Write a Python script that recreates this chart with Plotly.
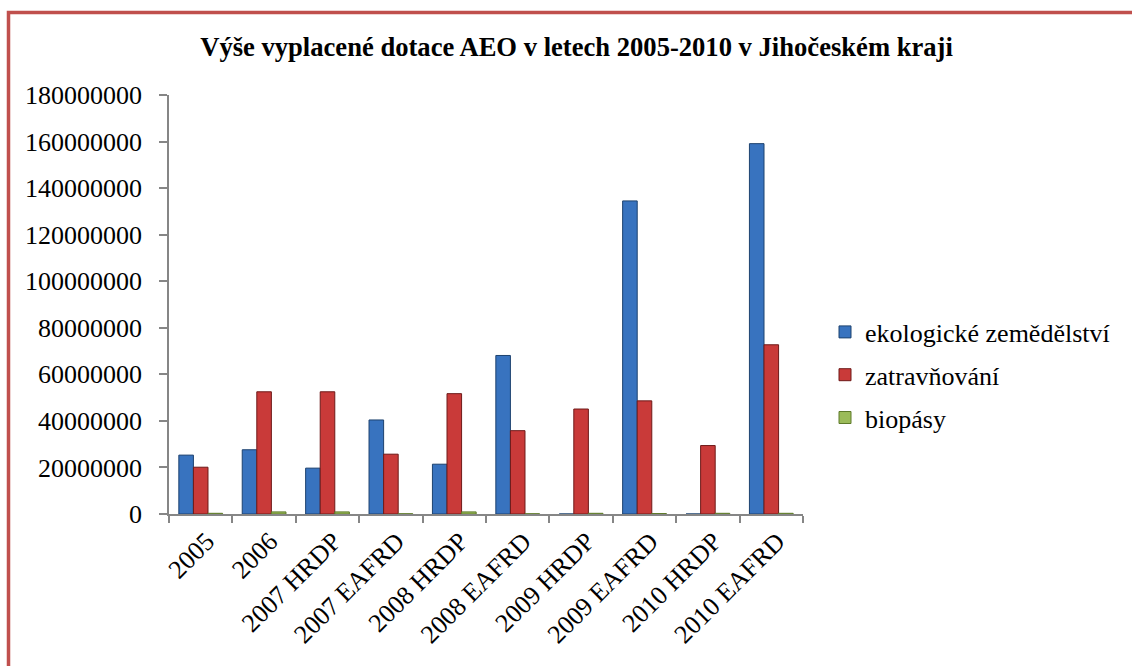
import plotly.graph_objects as go

categories = ["2005", "2006", "2007 HRDP", "2007 EAFRD", "2008 HRDP",
              "2008 EAFRD", "2009 HRDP", "2009 EAFRD", "2010 HRDP", "2010 EAFRD"]
ekologicke = [25300000, 27600000, 19700000, 40400000, 21400000,
              68100000, 0, 134500000, 0, 159100000]
zatravnovani = [20100000, 52500000, 52500000, 25700000, 51700000,
                35800000, 45100000, 48600000, 29400000, 72700000]
biopasy = [300000, 900000, 900000, 100000, 900000,
           100000, 300000, 200000, 300000, 300000]

series_names = ["ekologické zemědělství", "zatravňování", "biopásy"]
title_text = "Výše vyplacené dotace AEO v letech 2005-2010 v Jihočeském kraji"

W, H = 1132, 666
L, R, T, B = 169, 329, 95, 152
FONT = "Liberation Serif, Times New Roman, serif"

fig = go.Figure()
styles = [("#3873BF", "#1D426F"), ("#C93A39", "#6E1A19"), ("#9BBB59", "#5E7A2A")]
for i, (name, vals) in enumerate(zip(series_names, [ekologicke, zatravnovani, biopasy])):
    fill, edge = styles[i]
    fig.add_trace(go.Bar(
        x=categories, y=vals, name=name, legendgroup=f"g{i}",
        marker=dict(color=fill, line=dict(color=edge, width=1)),
    ))

pw = W - L - R
ph = H - T - B

def px_x(p):
    return (p - L) / pw

def px_y(p):
    return (H - B - p) / ph

fig.add_shape(type="path", xref="paper", yref="paper",
              path=f"M {px_x(8.5)} {px_y(700)} L {px_x(8.5)} {px_y(12.5)} L {px_x(1150)} {px_y(12.5)}",
              line=dict(color="#C0504D", width=3.5))

fig.update_layout(
    width=W, height=H,
    margin=dict(l=L, r=R, t=T, b=B),
    paper_bgcolor="white", plot_bgcolor="white",
    barmode="group", bargap=0.31, bargroupgap=0,
    font=dict(family=FONT, size=26, color="black"),
    title=dict(text=f"<b>{title_text}</b>", x=576.5 / W, xanchor="center",
               y=1 - 47 / H, yanchor="middle",
               font=dict(family=FONT, size=26.6, color="black")),
    legend=dict(x=px_x(825), xanchor="left", y=px_y(375), yanchor="middle",
                font=dict(family=FONT, size=26, color="black"),
                tracegroupgap=6, itemwidth=30, bgcolor="rgba(0,0,0,0)"),
    showlegend=True,
)
fig.update_yaxes(range=[0, 180000000], dtick=20000000, tickformat="d",
                 showgrid=False, zeroline=False, showline=True,
                 linecolor="#868686", linewidth=1.5, ticks="outside",
                 ticklen=8, tickcolor="#868686", tickwidth=1.5,
                 ticklabelstandoff=12,
                 tickfont=dict(family=FONT, size=26, color="black"))
fig.update_xaxes(tickson="boundaries", ticks="outside", ticklen=7,
                 tickcolor="#868686", tickwidth=1.5, showline=True,
                 linecolor="#868686", linewidth=1.5, tickangle=-45,
                 showgrid=False, ticklabelshift=6,
                 tickfont=dict(family=FONT, size=26, color="black"))

fig.write_html("out.html", config={"displayModeBar": False},
               post_script="document.body.style.margin='0px';")
